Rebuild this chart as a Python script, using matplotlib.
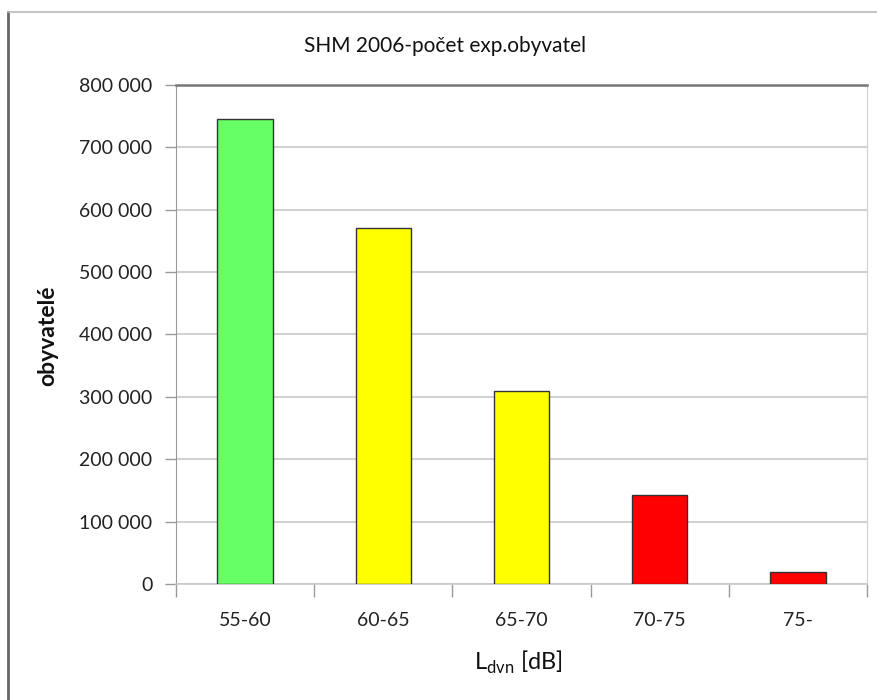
import matplotlib.pyplot as plt
from matplotlib.lines import Line2D
from matplotlib.ticker import FuncFormatter

plt.rcParams['font.family'] = ['Lato', 'DejaVu Sans']
plt.rcParams['mathtext.fontset'] = 'custom'
plt.rcParams['mathtext.rm'] = 'Lato'

categories = ["55-60", "60-65", "65-70", "70-75", "75-"]
obyvatele = [745000, 570000, 310000, 143000, 20000]
colors = ["#66ff66", "#ffff00", "#ffff00", "#ff0000", "#ff0000"]
yticks = [0, 100000, 200000, 300000, 400000, 500000, 600000, 700000, 800000]

fig = plt.figure(figsize=(8.77, 7), dpi=100)
ax = fig.add_axes([0.2007, 0.1657, 0.788, 0.7129])

x = list(range(len(categories)))
ax.bar(x, obyvatele, width=0.4, color=colors, edgecolor="#333333", linewidth=1, zorder=3)

ax.set_xlim(-0.5, len(categories) - 0.5)
ax.set_ylim(0, 800000)
ax.set_yticks(yticks)
ax.yaxis.set_major_formatter(FuncFormatter(lambda v, p: "{:,}".format(int(v)).replace(",", " ")))
ax.set_xticks(x)
ax.set_xticklabels(categories)
ax.set_xticks([i - 0.5 for i in range(len(categories) + 1)], minor=True)

ax.grid(axis="y", color="#c8c8c8", linewidth=1.2, zorder=0)
ax.tick_params(axis="y", length=8, width=1, color="#999999", pad=9, labelsize=14, labelcolor="#222222")
ax.tick_params(axis="x", which="major", length=0, pad=20, labelsize=14, labelcolor="#222222")
ax.tick_params(axis="x", which="minor", length=9, width=1, color="#999999")

ax.spines["top"].set_color("#777777")
ax.spines["top"].set_linewidth(1.8)
ax.spines["right"].set_color("#d0d0d0")
ax.spines["left"].set_color("#999999")
ax.spines["bottom"].set_color("#c8c8c8")
ax.spines["bottom"].set_linewidth(1.2)

fig.text(0.507, 0.935, "SHM 2006-počet exp.obyvatel", ha="center", va="center",
         fontsize=15, color="#111111")
fig.text(0.055, 0.521, "obyvatelé", rotation=90, ha="center", va="center",
         fontsize=16.5, fontweight="bold", color="#111111")
fig.text(0.591, 0.053, r"L$_{\mathrm{dvn}}$ [dB]", ha="center", va="center",
         fontsize=17, color="#111111")

# frame around the chart
fig.add_artist(Line2D([0.009, 0.009], [0.0, 0.983], color="#666666", linewidth=2))
fig.add_artist(Line2D([0.009, 1.0], [0.983, 0.983], color="#bbbbbb", linewidth=1.2))

fig.savefig("out.png", dpi=100)
